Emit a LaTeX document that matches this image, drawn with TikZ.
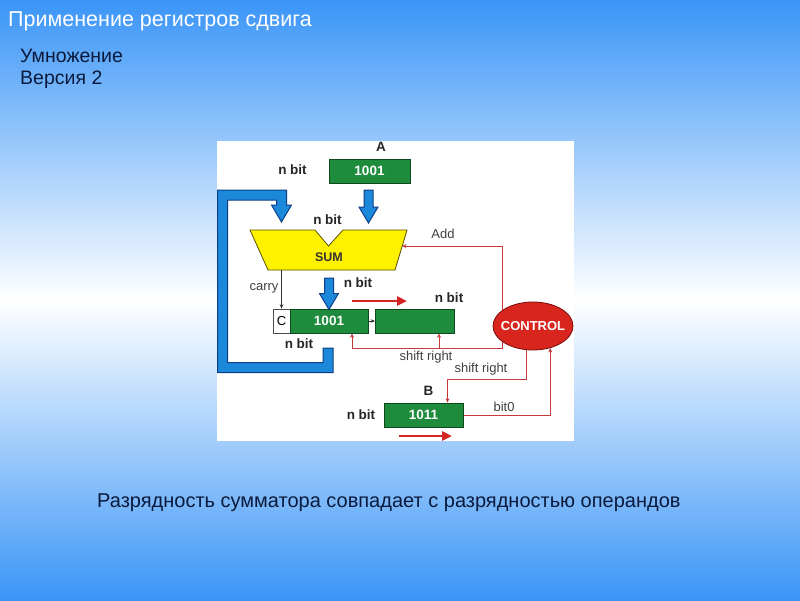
\documentclass[tikz,border=0pt]{standalone}
\usepackage{fontspec}
\setmainfont{Liberation Sans}
\usetikzlibrary{shapes.geometric,arrows.meta,calc}
\definecolor{bgblue}{HTML}{3A95F7}
\definecolor{regg}{HTML}{1E8C3C}
\definecolor{regborder}{HTML}{0E4A1E}
\definecolor{pipe}{HTML}{1C88DA}
\definecolor{pipeedge}{HTML}{0C3F86}
\definecolor{sumy}{HTML}{FFF200}
\definecolor{sumedge}{HTML}{5A5000}
\definecolor{sigred}{HTML}{C83A3A}
\definecolor{bigred}{HTML}{D42424}
\definecolor{ctlred}{HTML}{D8261E}
\definecolor{ctledge}{HTML}{7A0A0A}
\definecolor{labgray}{HTML}{404040}
\definecolor{labdark}{HTML}{262626}
\definecolor{navy}{HTML}{0A1A3C}
\pgfdeclarelayer{bg}
\pgfdeclarelayer{wires}
\pgfsetlayers{bg,wires,main}
\tikzset{
  reg/.style={draw=regborder, fill=regg, line width=0.8pt, minimum height=24pt, inner sep=0pt, text=white, font=\bfseries\fontsize{13.5}{15}\selectfont},
  cbox/.style={draw=black!70, fill=white, line width=0.6pt, minimum width=17pt, minimum height=24pt, inner sep=0pt, font=\fontsize{13}{15}\selectfont},
  lab/.style={font=\bfseries\fontsize{13.5}{15}\selectfont, text=labdark, inner sep=0pt},
  note/.style={font=\fontsize{13}{14}\selectfont, text=labgray, inner sep=0pt},
  sig/.style={draw=sigred, line width=0.8pt, -{Stealth[length=4.5pt,width=4pt]}},
  thinarrow/.style={draw=black!80, line width=0.6pt, -{Stealth[length=4.5pt,width=3.5pt]}},
  bigarrow/.style={draw=bigred, line width=2.5pt, -{Triangle[length=10pt,width=9pt]}},
  ctrl/.style={ellipse, draw=ctledge, fill=ctlred, line width=0.8pt, minimum width=80pt, minimum height=48pt, inner sep=0pt},
  blueshape/.style={fill=pipe, draw=pipeedge, line width=1pt, line join=miter},
}
\newcommand\bluearrow[3]{%
  \filldraw[blueshape] ({#1-4.5},#2) -- ({#1+4.5},#2) -- ({#1+4.5},{#3-16}) -- ({#1+9.5},{#3-16}) -- (#1,#3) -- ({#1-9.5},{#3-16}) -- ({#1-4.5},{#3-16}) -- cycle;}
\begin{document}
\begin{tikzpicture}[x=1pt,y=-1pt]
\useasboundingbox (0,0) rectangle (800,600);
\begin{pgfonlayer}{bg}
  \begin{scope}[y=1pt]
    \shade[top color=white, bottom color=bgblue] (0,-600) rectangle (800,-300);
    \shade[top color=bgblue, bottom color=white] (0,-300.5) rectangle (800,0);
  \end{scope}
  \fill[white] (217,141) rectangle (574,441);
\end{pgfonlayer}

% titles
\node[anchor=base west, text=white, font=\fontsize{21.5}{24}\selectfont, inner sep=0pt] (title) at (8,26) {Применение регистров сдвига};
\node[anchor=base west, text=navy, font=\fontsize{19.5}{22}\selectfont, inner sep=0pt] (sub1) at (20,62) {Умножение};
\node[anchor=base west, text=navy, font=\fontsize{19.5}{22}\selectfont, inner sep=0pt] (sub2) at (20,84) {Версия 2};
\node[anchor=base west, text=navy, font=\fontsize{20}{23}\selectfont, inner sep=0pt] (foot) at (97,507) {Разрядность сумматора совпадает с разрядностью операндов};

% blue loop pipe
\filldraw[blueshape] (323,348) -- (333,348) -- (333,372.5) -- (217.5,372.5) -- (217.5,190) -- (286.5,190) -- (286.5,205) -- (291.5,205) -- (281.5,222) -- (271.5,205) -- (276.5,205) -- (276.5,200) -- (227.5,200) -- (227.5,362.5) -- (323,362.5) -- cycle;

% SUM
\filldraw[fill=sumy, draw=sumedge, line width=0.8pt, line join=miter] (250,230) -- (315,230) -- (328.5,246) -- (343,230) -- (407,230) -- (395,270) -- (268,270) -- cycle;
\node[lab, text=black!80, font=\bfseries\fontsize{12.5}{14}\selectfont] (sum) at (329,257.5) {SUM};
\coordinate (sumR) at (402,246);
\coordinate (sumC) at (281.5,270);

% registers
\node[reg, minimum width=81pt] (A) at (369.5,171) {1001};
\node[cbox] (C) at (281.5,321) {C};
\node[reg, minimum width=78pt] (P) at (329,321) {1001};
\node[reg, minimum width=79pt] (Q) at (415,321) {};
\node[reg, minimum width=79pt] (B) at (423.5,415) {1011};
\node[ctrl] (ctl) at (533,326) {};
\node[font=\bfseries\fontsize{13}{15}\selectfont, text=white, inner sep=0pt] (ctltext) at (ctl) {CONTROL};

% blue arrows
\bluearrow{368.5}{190}{223}
\bluearrow{329}{278}{309.5}

% black connectors
\draw[thinarrow] (sumC) -- (C.north);
\draw[thinarrow] (P.east) -- (Q.west);

% red signal lines
\begin{pgfonlayer}{wires}
  \coordinate (addc) at (502,246);
  \coordinate (srA) at (502,348);
  \coordinate (srB) at (526,379);
  \coordinate (pin1) at ($(P.south)+(23,0)$);
  \coordinate (pin2) at ($(Q.south)+(24,0)$);
  \coordinate (pin3) at ($(B.north)+(24,0)$);
  \draw[sig] (ctl.center -| addc) -- (addc) -- (sumR);
  \draw[sig] (ctl.center -| srA) -- (srA) -| (pin1);
  \draw[sig] (pin2 |- srA) -- (pin2);
  \draw[sig] (ctl.center -| srB) -- (srB) -| (pin3);
  \draw[sig] (B.east) -| (ctl.-52);
\end{pgfonlayer}

% big red shift arrows
\draw[bigarrow] (352,301) -- (407,301);
\draw[bigarrow] (399,436) -- (452,436);

% labels
\node[lab] (lA) at (381,147) {A};
\node[lab] (lB) at (428.5,391) {B};
\node[lab] (n1) at (292.5,170) {n bit};
\node[lab] (n2) at (327.5,220) {n bit};
\node[lab] (n3) at (358,283) {n bit};
\node[lab] (n4) at (449,298) {n bit};
\node[lab] (n5) at (299,344) {n bit};
\node[lab] (n6) at (361,415) {n bit};
\node[note] (lcarry) at (264,288) {carry};
\node[note] (ladd) at (443,234) {Add};
\node[note] (lsr1) at (426,357.5) {shift right};
\node[note] (lsr2) at (481,369.5) {shift right};
\node[note] (lbit0) at (504,407) {bit0};
\end{tikzpicture}
\end{document}
